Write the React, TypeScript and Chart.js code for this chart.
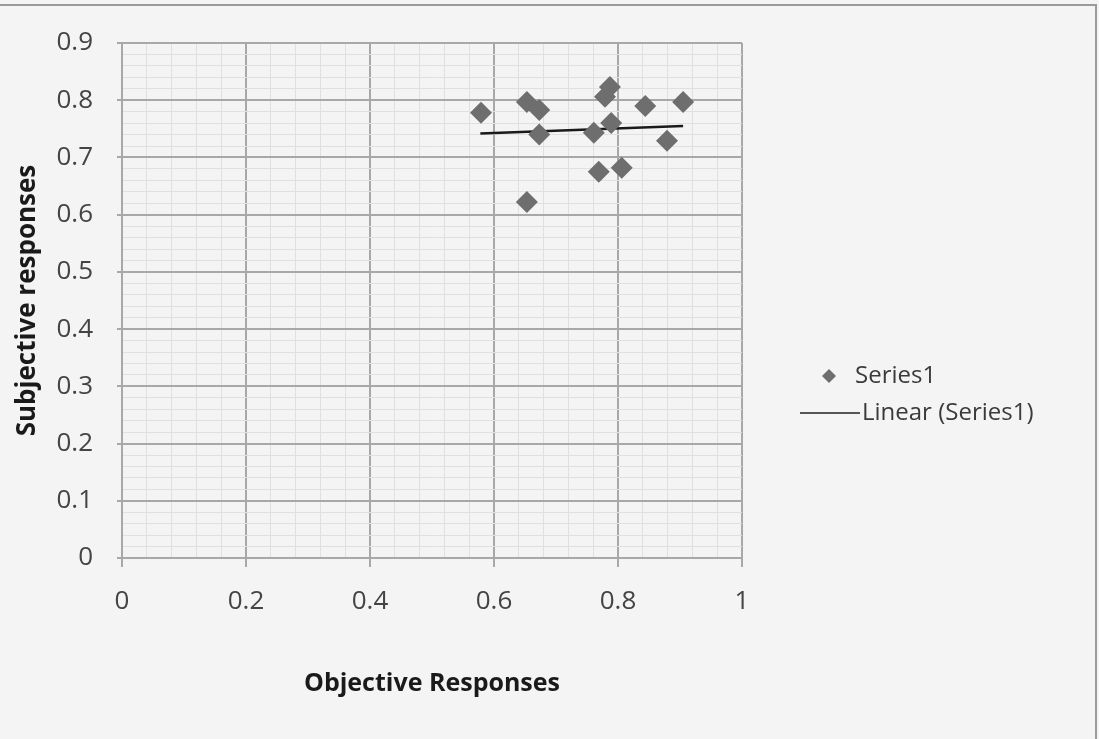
import React, { useEffect, useRef } from "react";
import { Chart, registerables } from "chart.js";

Chart.register(...registerables);

const objective = [0.579, 0.653, 0.673, 0.673, 0.653, 0.761, 0.769, 0.779, 0.787, 0.789, 0.806, 0.844, 0.879, 0.905];
const subjective = [0.778, 0.797, 0.783, 0.740, 0.622, 0.743, 0.675, 0.806, 0.823, 0.760, 0.682, 0.790, 0.729, 0.797];
const trendX = [0.578, 0.905];
const trendY = [0.742, 0.755];
const xMajorTicks = [0, 0.2, 0.4, 0.6, 0.8, 1];
const yMajorTicks = [0, 0.1, 0.2, 0.3, 0.4, 0.5, 0.6, 0.7, 0.8, 0.9];
const seriesLabel = "Series1";
const trendLabel = "Linear (Series1)";
const xTitle = "Objective Responses";
const yTitle = "Subjective responses";

const FONT = "'Open Sans', sans-serif";
const MARKER = "#6e6e6e";

const isMajor = (v: number, list: number[]) => list.some((m) => Math.abs(m - v) < 1e-6);
const fmt = (v: number) => (Math.abs(v) < 1e-9 ? "0" : Math.abs(v - 1) < 1e-9 ? "1" : String(Math.round(v * 10) / 10));

export default function App() {
  const ref = useRef<HTMLCanvasElement | null>(null);
  useEffect(() => {
    document.body.style.margin = "0";
    const ctx = ref.current!.getContext("2d")!;
    const bgPlugin = {
      id: "bgFrame",
      beforeDraw(chart: any) {
        const c = chart.ctx;
        c.save();
        c.fillStyle = "#f4f4f4";
        c.fillRect(0, 0, chart.width, chart.height);
        c.strokeStyle = "#9a9a9a";
        c.lineWidth = 2;
        c.beginPath();
        c.moveTo(0, 5);
        c.lineTo(1096, 5);
        c.lineTo(1096, 739);
        c.stroke();
        c.restore();
      },
    };
    const legendPlugin = {
      id: "customLegend",
      afterDraw(chart: any) {
        const c = chart.ctx;
        c.save();
        c.font = `24px ${FONT}`;
        c.textBaseline = "middle";
        const dx = 829, dy = 376, r = 7;
        c.fillStyle = MARKER;
        c.beginPath();
        c.moveTo(dx, dy - r);
        c.lineTo(dx + r, dy);
        c.lineTo(dx, dy + r);
        c.lineTo(dx - r, dy);
        c.closePath();
        c.fill();
        c.fillStyle = "#3a3a3a";
        c.fillText(chart.data.datasets[0].label, 855, dy);
        c.strokeStyle = "#222";
        c.lineWidth = 1.5;
        c.beginPath();
        c.moveTo(800, 413);
        c.lineTo(860, 413);
        c.stroke();
        c.fillText(chart.data.datasets[1].label, 862, 413);
        c.restore();
      },
    };
    const chart = new Chart(ctx, {
      type: "scatter",
      data: {
        datasets: [
          {
            label: seriesLabel,
            data: objective.map((x, i) => ({ x, y: subjective[i] })),
            pointStyle: "rectRot",
            pointRadius: 11,
            backgroundColor: MARKER,
            borderColor: MARKER,
            borderWidth: 0,
          },
          {
            label: trendLabel,
            type: "line",
            data: trendX.map((x, i) => ({ x, y: trendY[i] })),
            borderColor: "#1a1a1a",
            borderWidth: 2.5,
            pointRadius: 0,
            fill: false,
          },
        ],
      },
      options: {
        animation: false,
        responsive: false,
        layout: { padding: { top: 43, right: 357, left: 0, bottom: 0 } },
        plugins: { legend: { display: false }, tooltip: { enabled: false } },
        scales: {
          x: {
            type: "linear",
            min: 0,
            max: 1,
            afterBuildTicks: (scale: any) => {
              const t = [];
              for (let i = 0; i <= 25; i++) t.push({ value: i * 0.04 });
              scale.ticks = t;
            },
            afterFit: (scale: any) => {
              scale.height = 739 - 558;
            },
            ticks: {
              autoSkip: false,
              maxRotation: 0,
              padding: 19,
              color: "#444",
              font: { family: FONT, size: 26 },
              callback: (v: any) => (isMajor(Number(v), xMajorTicks) ? fmt(Number(v)) : ""),
            },
            grid: {
              color: (c: any) => (isMajor(c.tick?.value ?? -1, xMajorTicks) ? "#a8a8a8" : "#e0e0e0"),
              lineWidth: (c: any) => (isMajor(c.tick?.value ?? -1, xMajorTicks) ? 2 : 1),
              tickColor: (c: any) => (isMajor(c.tick?.value ?? -1, xMajorTicks) ? "#a8a8a8" : "rgba(0,0,0,0)"),
              tickLength: 9,
            },
            border: { color: "#a8a8a8", width: 2 },
            title: {
              display: true,
              text: xTitle,
              color: "#1a1a1a",
              font: { family: FONT, size: 25, weight: "bold" },
              padding: { top: 0, bottom: 40 },
            },
          },
          y: {
            type: "linear",
            min: 0,
            max: 0.9,
            afterBuildTicks: (scale: any) => {
              const t = [];
              for (let i = 0; i <= 45; i++) t.push({ value: Math.round(i * 2) / 100 });
              scale.ticks = t;
            },
            afterFit: (scale: any) => {
              scale.width = 122;
            },
            ticks: {
              autoSkip: false,
              padding: 24,
              color: "#444",
              font: { family: FONT, size: 26 },
              callback: (v: any) => (isMajor(Number(v), yMajorTicks) ? fmt(Number(v)) : ""),
            },
            grid: {
              color: (c: any) => (isMajor(c.tick?.value ?? -1, yMajorTicks) ? "#a8a8a8" : "#e0e0e0"),
              lineWidth: (c: any) => (isMajor(c.tick?.value ?? -1, yMajorTicks) ? 2 : 1),
              tickColor: (c: any) => (isMajor(c.tick?.value ?? -1, yMajorTicks) ? "#a8a8a8" : "rgba(0,0,0,0)"),
              tickLength: 5,
            },
            border: { color: "#a8a8a8", width: 2 },
            title: {
              display: true,
              text: yTitle,
              color: "#1a1a1a",
              font: { family: FONT, size: 26, weight: "bold" },
              padding: { top: 12, bottom: 0 },
            },
          },
        },
      },
      plugins: [bgPlugin, legendPlugin],
    } as any);
    return () => chart.destroy();
  }, []);
  return <canvas ref={ref} width={1099} height={739} style={{ display: "block" }} />;
}
